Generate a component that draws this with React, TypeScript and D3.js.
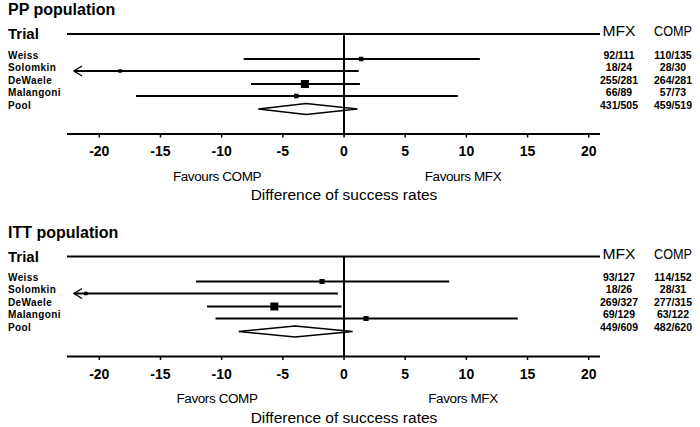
import React from "react";
import * as d3 from "d3";

const trials = ["Weiss", "Solomkin", "DeWaele", "Malangoni", "Pool"];

// PP population
const ppEst = [1.4, -18.3, -3.2, -3.9, -3.1];
const ppLower = [-8.2, -40, -7.6, -17.0, -7.0];
const ppUpper = [11.1, 1.2, 1.3, 9.3, 1.1];
const ppWeight = [4.5, 3.5, 8, 4.5, 0];
const ppMfx = ["92/111", "18/24", "255/281", "66/89", "431/505"];
const ppComp = ["110/135", "28/30", "264/281", "57/73", "459/519"];

// ITT population
const ittEst = [-1.8, -21.1, -5.7, 1.8, -4.0];
const ittLower = [-12.1, -40, -11.2, -10.5, -8.6];
const ittUpper = [8.6, -0.5, -0.2, 14.2, 0.7];
const ittWeight = [5, 3.5, 8, 5, 0];
const ittMfx = ["93/127", "18/26", "269/327", "69/129", "449/609"];
const ittComp = ["114/152", "28/31", "277/315", "63/122", "482/620"];

const ticks = [-20, -15, -10, -5, 0, 5, 10, 15, 20];

const panels = [
  { title: "PP population", est: ppEst, lower: ppLower, upper: ppUpper, weight: ppWeight, mfx: ppMfx, comp: ppComp, favLeft: "Favours COMP", favRight: "Favours MFX" },
  { title: "ITT population", est: ittEst, lower: ittLower, upper: ittUpper, weight: ittWeight, mfx: ittMfx, comp: ittComp, favLeft: "Favors COMP", favRight: "Favors MFX" },
];

const FONT = "'Liberation Sans', Arial, Helvetica, sans-serif";

function Panel({ p, top }: { p: any; top: number }) {
  const x = d3.scaleLinear().domain([-22.64, 20.92]).range([67, 600]);
  const [dmin] = x.domain();
  const lineY = 34;
  const axisY = 134;
  const rowY = d3.scaleLinear().domain([0, 4]).range([59, 108.5]);
  const x0 = x(0);
  const tipX = x(dmin) + 7;
  return (
    <g transform={`translate(0,${top})`} fontFamily={FONT}>
      <text x={8} y={15} fontSize={16} fontWeight="bold">{p.title}</text>
      <text x={8} y={39} fontSize={15} fontWeight="bold">Trial</text>
      <line x1={x.range()[0]} x2={x.range()[1]} y1={lineY} y2={lineY} stroke="#000" strokeWidth={2} />
      <text x={619} y={36} fontSize={14.5} textAnchor="middle" textLength={33} lengthAdjust="spacingAndGlyphs">MFX</text>
      <text x={673} y={36} fontSize={14.5} textAnchor="middle" textLength={38} lengthAdjust="spacingAndGlyphs">COMP</text>
      {trials.map((t, i) => {
        const y = Math.round(rowY(i));
        const lo = p.lower[i];
        const clipped = lo < dmin;
        const xl = clipped ? tipX : x(lo);
        const xu = x(p.upper[i]);
        const xe = x(p.est[i]);
        const isPool = i === trials.length - 1;
        const w = p.weight[i];
        return (
          <g key={t}>
            <text x={8} y={y - 0.5} fontSize={10} fontWeight="bold" letterSpacing={0.4}>{t}</text>
            <text x={619} y={y - 0.5} fontSize={10.5} fontWeight="bold" textAnchor="middle">{p.mfx[i]}</text>
            <text x={673} y={y - 0.5} fontSize={10.5} fontWeight="bold" textAnchor="middle">{p.comp[i]}</text>
            {isPool ? (
              <polygon
                points={`${xl},${y} ${xe},${y - 5.5} ${xu},${y} ${xe},${y + 5.5}`}
                fill="#fff"
                stroke="#000"
                strokeWidth={1.5}
              />
            ) : (
              <g>
                <line x1={xl} x2={xu} y1={y} y2={y} stroke="#000" strokeWidth={2} />
                {clipped && (
                  <path d={`M${tipX + 8},${y - 5} L${tipX},${y} L${tipX + 8},${y + 5}`} fill="none" stroke="#000" strokeWidth={1.4} />
                )}
                <rect x={xe - w / 2} y={y - w / 2} width={w} height={w} fill="#000" />
              </g>
            )}
          </g>
        );
      })}
      <line x1={x0} x2={x0} y1={lineY} y2={axisY} stroke="#000" strokeWidth={2} />
      <line x1={x.range()[0]} x2={x.range()[1]} y1={axisY} y2={axisY} stroke="#000" strokeWidth={2} />
      {ticks.map((t) => (
        <g key={t}>
          <line x1={x(t)} x2={x(t)} y1={axisY} y2={axisY + 3.5} stroke="#000" strokeWidth={1.5} />
          <text x={x(t)} y={axisY + 22} fontSize={14} fontWeight="bold" textAnchor="middle">{t}</text>
        </g>
      ))}
      <text x={217} y={axisY + 46.5} fontSize={13.5} textAnchor="middle" letterSpacing={-0.4}>{p.favLeft}</text>
      <text x={463} y={axisY + 46.5} fontSize={13.5} textAnchor="middle" letterSpacing={-0.4}>{p.favRight}</text>
      <text x={344} y={axisY + 66} fontSize={15.5} textAnchor="middle">Difference of success rates</text>
    </g>
  );
}

export default function App() {
  return (
    <svg width={700} height={427} style={{ position: "absolute", left: 0, top: 0, background: "#fff" }}>
      <rect width={700} height={427} fill="#fff" />
      {panels.map((p, i) => (
        <Panel key={p.title} p={p} top={i * 222.5} />
      ))}
    </svg>
  );
}
